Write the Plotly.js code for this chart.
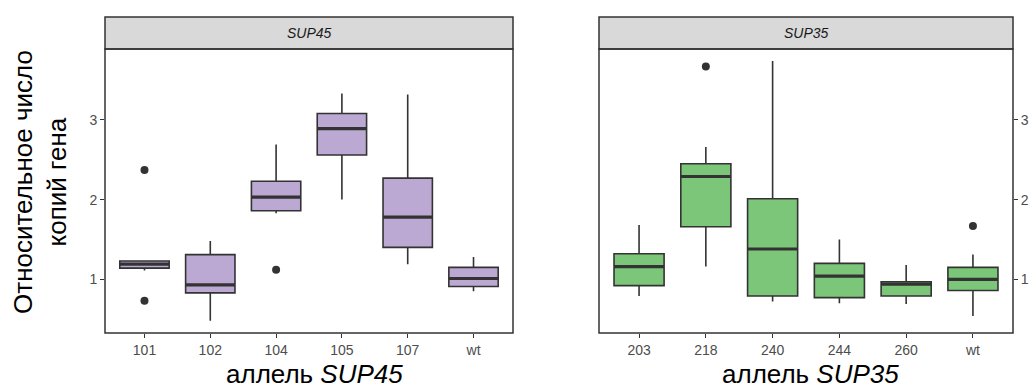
<!DOCTYPE html>
<html><head><meta charset="utf-8">
<script src="https://cdn.plot.ly/plotly-3.0.1.min.js"></script>
<style>html,body{margin:0;padding:0;background:#fff;}#chart{width:1029px;height:392px;}</style>
</head><body><div id="chart"></div>
<script>
// SUP45 panel
const catsA = ["101","102","104","105","107","wt"];
const q1A = [1.14, 0.83, 1.86, 2.56, 1.40, 0.91];
const medA = [1.19, 0.93, 2.03, 2.89, 1.78, 1.01];
const q3A = [1.23, 1.31, 2.23, 3.08, 2.27, 1.15];
const loA = [1.11, 0.48, 1.83, 2.00, 1.19, 0.85];
const hiA = [1.24, 1.48, 2.69, 3.33, 3.32, 1.28];
const outCatA = ["101","101","104"];
const outValA = [2.37, 0.73, 1.12];
// SUP35 panel
const catsB = ["203","218","240","244","260","wt"];
const q1B = [0.92, 1.66, 0.79, 0.77, 0.79, 0.86];
const medB = [1.16, 2.29, 1.38, 1.04, 0.94, 1.00];
const q3B = [1.32, 2.45, 2.01, 1.20, 0.97, 1.15];
const loB = [0.79, 1.16, 0.72, 0.70, 0.69, 0.54];
const hiB = [1.68, 2.66, 3.74, 1.50, 1.18, 1.31];
const outCatB = ["218","wt"];
const outValB = [3.67, 1.67];
const yTicks = [1, 2, 3];

const BW = 0.75, DARK = "#333333";
function panel(cats, q1, med, q3, lo, hi, oc, ov, fill, xa, ya) {
  const pos = cats.map((c, i) => i + 1);
  const box = {type: "box", x: pos, q1: q1, median: med, q3: q3,
    lowerfence: lo, upperfence: hi, width: BW, whiskerwidth: 0,
    fillcolor: fill, line: {color: DARK, width: 1.6}, boxpoints: false,
    xaxis: xa, yaxis: ya, showlegend: false, hoverinfo: "skip"};
  const mx = [], my = [];
  pos.forEach((p, i) => { mx.push(p - BW / 2, p + BW / 2, null); my.push(med[i], med[i], null); });
  const medLine = {type: "scatter", mode: "lines", x: mx, y: my,
    line: {color: DARK, width: 3.2}, xaxis: xa, yaxis: ya, showlegend: false, hoverinfo: "skip"};
  const outs = {type: "scatter", mode: "markers", x: oc.map(c => cats.indexOf(c) + 1), y: ov,
    marker: {color: DARK, size: 8}, xaxis: xa, yaxis: ya, showlegend: false, hoverinfo: "skip"};
  return [box, medLine, outs];
}
const data = [].concat(
  panel(catsA, q1A, medA, q3A, loA, hiA, outCatA, outValA, "#BBA9D3", "x", "y"),
  panel(catsB, q1B, medB, q3B, loB, hiB, outCatB, outValB, "#7CC67A", "x2", "y2")
);

const FONT = "Liberation Sans, Arial, sans-serif";
const yr = [0.326, 3.89];
const xr = [0.4, 6.6];
const dA = [105/1029, 513/1029], dB = [599/1029, 1013/1029];
const dY = [1 - 333/392, 1 - 49/392];
const stripTop = 1 - 17/392;
function xax(cats, dom, anchor) {
  return {domain: dom, range: xr, anchor: anchor, tickmode: "array",
    tickvals: cats.map((c, i) => i + 1), ticktext: cats, ticks: "outside", ticklen: 4,
    tickcolor: DARK, showgrid: false, zeroline: false, showline: false,
    tickfont: {family: FONT, size: 14, color: "#4D4D4D"}, fixedrange: true};
}
function yax(dom, anchor, side) {
  return {domain: dom, range: yr, anchor: anchor, side: side, tickmode: "array",
    tickvals: yTicks, ticktext: yTicks.map(String), ticks: "outside", ticklen: 4,
    tickcolor: DARK, showgrid: false, zeroline: false, showline: false,
    tickfont: {family: FONT, size: 14, color: "#4D4D4D"}, fixedrange: true};
}
function frame(dom) {
  return [
    {type: "rect", xref: "paper", yref: "paper", x0: dom[0], x1: dom[1], y0: dY[1], y1: stripTop,
      fillcolor: "#D9D9D9", line: {color: DARK, width: 1.5}, layer: "below"},
    {type: "rect", xref: "paper", yref: "paper", x0: dom[0], x1: dom[1], y0: dY[0], y1: dY[1],
      fillcolor: "rgba(0,0,0,0)", line: {color: DARK, width: 1.5}, layer: "above"}
  ];
}
function ann(x, y, text, size, color, angle) {
  return {xref: "paper", yref: "paper", x: x, y: y, xanchor: "center", yanchor: "middle",
    text: text, showarrow: false, textangle: angle || 0,
    font: {family: FONT, size: size, color: color}};
}
const layout = {
  width: 1029, height: 392, margin: {l: 0, r: 0, t: 0, b: 0},
  paper_bgcolor: "#fff", plot_bgcolor: "#fff", showlegend: false,
  font: {family: FONT},
  xaxis: xax(catsA, dA, "y"), yaxis: yax(dY, "x", "left"),
  xaxis2: xax(catsB, dB, "y2"), yaxis2: yax(dY, "x2", "right"),
  shapes: [].concat(frame(dA), frame(dB)),
  annotations: [
    ann((dA[0] + dA[1]) / 2, (dY[1] + stripTop) / 2, "<i>SUP45</i>", 14, "#1A1A1A"),
    ann((dB[0] + dB[1]) / 2, (dY[1] + stripTop) / 2, "<i>SUP35</i>", 14, "#1A1A1A"),
    ann(314/1029, 1 - 374/392, "аллель <i>SUP45</i>", 26, "#000"),
    ann((dB[0] + dB[1]) / 2 + 4/1029, 1 - 374/392, "аллель <i>SUP35</i>", 26, "#000"),
    ann(40/1029, 1 - 182/392, "Относительное число<br>копий гена", 26, "#000", -90)
  ]
};
Plotly.newPlot("chart", data, layout, {staticPlot: true, displayModeBar: false});
</script></body></html>
